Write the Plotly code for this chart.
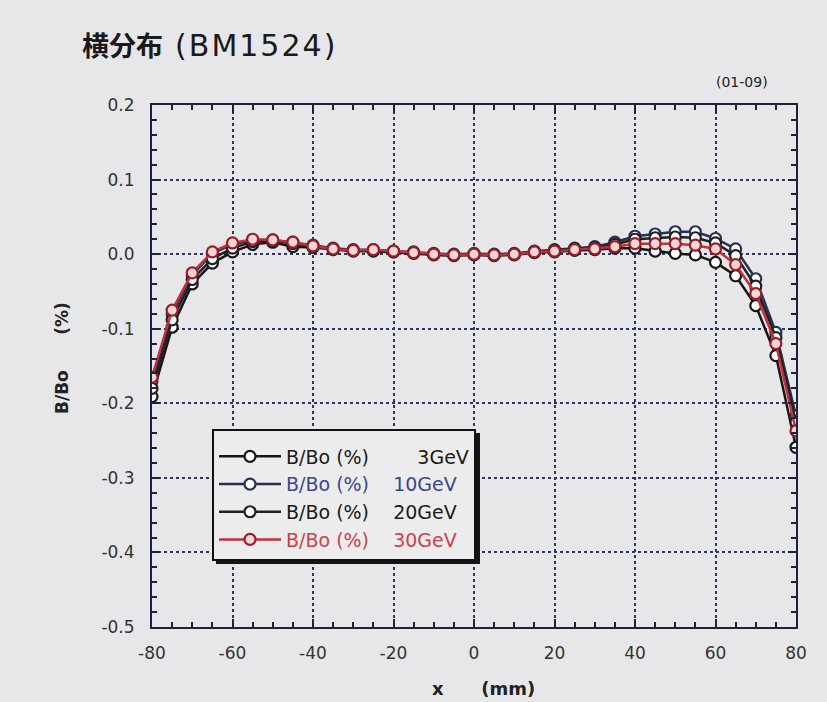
import plotly.graph_objects as go

x_mm = [-80, -75, -70, -65, -60, -55, -50, -45, -40, -35, -30, -25, -20, -15, -10, -5,
        0, 5, 10, 15, 20, 25, 30, 35, 40, 45, 50, 55, 60, 65, 70, 75, 80]

b_3gev = [-0.191, -0.098, -0.040, -0.012, 0.003, 0.013, 0.016, 0.010, 0.009, 0.006, 0.004,
          0.004, 0.003, 0.001, -0.001, -0.002, -0.001, -0.002, -0.001, 0.002, 0.003, 0.005,
          0.006, 0.008, 0.008, 0.004, 0.001, -0.001, -0.011, -0.029, -0.069, -0.136, -0.259]
b_10gev = [-0.170, -0.080, -0.028, 0.001, 0.013, 0.019, 0.019, 0.016, 0.012, 0.008, 0.006,
           0.006, 0.004, 0.003, 0.001, 0.000, 0.001, 0.000, 0.001, 0.004, 0.006, 0.008,
           0.010, 0.016, 0.024, 0.027, 0.030, 0.030, 0.021, 0.007, -0.033, -0.105, -0.217]
b_20gev = [-0.180, -0.088, -0.034, -0.006, 0.008, 0.017, 0.018, 0.014, 0.010, 0.007, 0.005,
           0.005, 0.003, 0.002, 0.000, -0.001, 0.000, -0.001, 0.000, 0.003, 0.005, 0.007,
           0.008, 0.013, 0.020, 0.022, 0.023, 0.022, 0.015, -0.002, -0.043, -0.112, -0.225]
b_30gev = [-0.165, -0.075, -0.025, 0.003, 0.015, 0.020, 0.019, 0.016, 0.011, 0.007, 0.005,
           0.006, 0.004, 0.002, 0.000, -0.001, 0.000, -0.001, 0.000, 0.003, 0.004, 0.006,
           0.007, 0.010, 0.014, 0.014, 0.014, 0.012, 0.007, -0.014, -0.053, -0.120, -0.237]

nb = "\u00a0"
series_names = ["B/Bo (%)" + nb * 8 + "3GeV", "B/Bo (%)" + nb * 4 + "10GeV",
                "B/Bo (%)" + nb * 4 + "20GeV", "B/Bo (%)" + nb * 4 + "30GeV"]
series_values = [b_3gev, b_10gev, b_20gev, b_30gev]

x_tickvals = [-80, -60, -40, -20, 0, 20, 40, 60, 80]
x_ticktext = ["-80", "-60", "-40", "-20", "0", "20", "40", "60", "80"]
y_tickvals = [0.2, 0.1, 0.0, -0.1, -0.2, -0.3, -0.4, -0.5]
y_ticktext = ["0.2", "0.1", "0.0", "-0.1", "-0.2", "-0.3", "-0.4", "-0.5"]

line_colors = ["#161616", "#27305a", "#202020", "#c4303a"]
text_colors = ["#1a1a1a", "#3a4890", "#1a1a1a", "#d0404a"]
marker_lines = ["#161616", "#27305a", "#202020", "#9a1e28"]
fill_colors = ["#ffffff", "#ffffff", "#ffffff", "#f7d6d6"]

bg = "#e7e7e9"
frame = "#1c2240"
grid = "#2b3567"

L, R, T, B = 152, 796, 105, 627  # plot area in pixels
W, H = R - L, B - T


def px(xp):
    return (xp - L) / W


def py(yp):
    return (B - yp) / H


fig = go.Figure()
for name, vals, lc, tc, mc, fc in zip(series_names, series_values, line_colors, text_colors,
                                      marker_lines, fill_colors):
    fig.add_trace(go.Scatter(
        x=x_mm, y=vals, mode="lines+markers",
        name=f"<span style='color:{tc}'>{name}</span>",
        line=dict(color=lc, width=2.5),
        marker=dict(symbol="circle", size=11, color=fc, line=dict(color=mc, width=2.2)),
    ))

fig.update_layout(
    width=827, height=702,
    paper_bgcolor=bg, plot_bgcolor=bg,
    margin=dict(l=L, r=827 - R, t=T, b=702 - B, autoexpand=False),
    font=dict(family="DejaVu Sans", size=16, color="#333333"),
    showlegend=True,
    legend=dict(
        x=px(212), y=py(429), xanchor="left", yanchor="top",
        bgcolor="#ececec", bordercolor="#111111", borderwidth=2,
        font=dict(family="DejaVu Sans", size=19),
        itemwidth=62, tracegroupgap=0,
        title=dict(text=nb, font=dict(size=5)),
    ),
)

# legend drop shadow
fig.add_shape(type="rect", xref="paper", yref="paper",
              x0=px(216), x1=px(480), y0=py(564), y1=py(433),
              fillcolor="#151515", line=dict(width=0), layer="above")

fig.update_xaxes(
    range=[-80, 80], tickvals=x_tickvals, ticktext=x_ticktext,
    showgrid=True, gridcolor=grid, griddash="dot", gridwidth=1.5,
    zeroline=False,
    showline=True, linecolor=frame, linewidth=2, mirror="allticks",
    ticks="inside", ticklen=8, tickwidth=1.5, tickcolor=frame,
    minor=dict(dtick=5, tick0=0, ticks="inside", ticklen=5, tickwidth=1.5, tickcolor=frame,
               showgrid=False),
    tickfont=dict(family="DejaVu Sans", size=17, color="#333333"),
    ticklabelstandoff=10,
)
fig.update_yaxes(
    range=[-0.5, 0.2], tickvals=y_tickvals, ticktext=y_ticktext,
    showgrid=True, gridcolor=grid, griddash="dot", gridwidth=1.5,
    zeroline=False,
    showline=True, linecolor=frame, linewidth=2, mirror="allticks",
    ticks="inside", ticklen=8, tickwidth=1.5, tickcolor=frame,
    minor=dict(dtick=0.02, tick0=0, ticks="inside", ticklen=5, tickwidth=1.5, tickcolor=frame,
               showgrid=False),
    tickfont=dict(family="DejaVu Sans", size=17, color="#333333"),
    ticklabelstandoff=12,
)

# axis titles
fig.add_annotation(
    xref="paper", yref="paper", x=px(483), y=py(688),
    xanchor="center", yanchor="middle", showarrow=False,
    text="<b>x" + nb * 6 + "(mm)</b>",
    font=dict(family="DejaVu Sans", size=18, color="#222222"),
)
fig.add_annotation(
    xref="paper", yref="paper", x=px(62), y=py(358),
    xanchor="center", yanchor="middle", showarrow=False, textangle=-90,
    text="<b>B/Bo" + nb * 6 + "(%)</b>",
    font=dict(family="DejaVu Sans", size=17, color="#222222"),
)

fig.add_annotation(
    xref="paper", yref="paper", x=px(80), y=py(45),
    xanchor="left", yanchor="middle", showarrow=False,
    text="<b>横分布</b>" + nb + nb
         + "<span style='font-family:DejaVu Sans;font-size:30px;letter-spacing:2px'>(BM1524)</span>",
    font=dict(family="Noto Sans CJK JP", size=27, color="#1a1a1a"),
)
fig.add_annotation(
    xref="paper", yref="paper", x=px(742), y=py(82),
    xanchor="center", yanchor="middle", showarrow=False,
    text="(01-09)",
    font=dict(family="DejaVu Sans", size=14, color="#222222"),
)

fig.write_html("out.html")
